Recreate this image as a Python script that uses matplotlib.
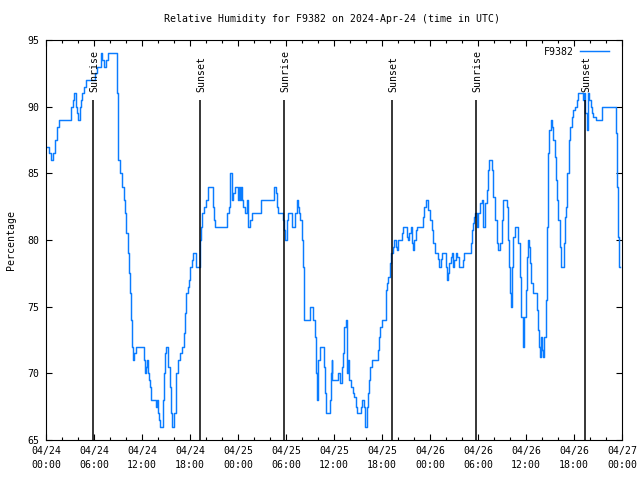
import matplotlib
matplotlib.use("Agg")
import matplotlib.pyplot as plt
from matplotlib.ticker import MultipleLocator

# ---- data (hours since 2024-04-24 00:00 UTC, relative humidity %) ----
hours = [0.0, 0.375, 0.625, 0.875, 1.125, 1.375, 1.625, 1.84, 3.125, 3.375, 3.5, 3.69, 3.875, 4.04,
         4.19, 4.375, 4.56, 4.75, 5.0, 6.125, 6.375, 6.875, 7.0, 7.25, 7.5, 7.75, 8.875, 8.94, 9.0,
         9.25, 9.5, 9.75, 9.875, 10.06, 10.19, 10.34, 10.5, 10.66, 10.79, 10.91, 11.0, 11.21, 12.25,
         12.375, 12.5, 12.625, 12.75, 12.875, 13.0, 13.125, 13.75, 13.875, 14.0, 14.125, 14.25,
         14.625, 14.75, 14.875, 15.06, 15.19, 15.31, 15.44, 15.625, 15.71, 16.0, 16.19, 16.31, 16.5,
         16.75, 17.0, 17.19, 17.375, 17.5, 17.69, 17.875, 18.06, 18.25, 18.375, 18.69, 19.19,
         19.375, 19.56, 19.75, 20.0, 20.19, 20.875, 21.0, 21.125, 22.625, 22.875, 23.06, 23.21,
         23.31, 23.41, 23.625, 24.0, 24.125, 24.25, 24.375, 24.56, 24.66, 24.875, 25.09, 25.19,
         25.29, 25.5, 25.71, 26.84, 28.5, 28.69, 28.84, 28.96, 29.59, 29.75, 29.875, 30.09, 30.29,
         30.69, 30.75, 31.125, 31.34, 31.5, 31.625, 31.75, 31.96, 32.09, 32.19, 32.25, 33.0, 33.41,
         33.625, 33.75, 33.875, 34.06, 34.25, 34.75, 34.875, 35.0, 35.5, 35.625, 35.71, 35.79, 36.5,
         36.69, 36.81, 36.96, 37.125, 37.21, 37.29, 37.46, 37.59, 37.66, 37.75, 37.91, 38.09, 38.34,
         38.5, 38.75, 38.91, 39.34, 39.46, 39.79, 39.91, 40.09, 40.21, 40.375, 40.5, 40.71, 41.46,
         41.625, 41.75, 41.96, 42.46, 42.53, 42.66, 42.79, 43.0, 43.125, 43.34, 43.5, 43.71, 43.84,
         44.0, 44.46, 44.66, 45.09, 45.21, 45.41, 45.59, 45.71, 45.875, 46.04, 46.21, 46.41, 47.09,
         47.25, 47.5, 47.71, 47.79, 48.0, 48.21, 48.41, 48.625, 49.04, 49.16, 49.34, 49.46, 50.0,
         50.16, 50.29, 50.41, 50.59, 50.71, 50.91, 51.04, 51.21, 51.41, 51.625, 52.09, 52.21, 53.09,
         53.29, 53.41, 53.54, 53.66, 53.84, 54.04, 54.25, 54.46, 54.66, 54.875, 55.09, 55.29, 55.41,
         55.71, 55.91, 56.125, 56.34, 56.54, 56.75, 56.96, 57.09, 57.59, 57.79, 57.91, 58.0, 58.16,
         58.25, 58.41, 58.625, 59.04, 59.25, 59.41, 59.66, 59.79, 59.96, 60.09, 60.21, 60.34, 60.5,
         60.625, 60.91, 61.34, 61.46, 61.625, 61.75, 61.875, 62.04, 62.16, 62.29, 62.46, 62.59,
         62.71, 62.91, 63.125, 63.29, 63.41, 63.625, 63.75, 63.875, 64.04, 64.25, 64.375, 64.75,
         64.91, 65.0, 65.16, 65.375, 65.5, 65.71, 65.91, 66.125, 66.34, 66.5, 67.09, 67.25, 67.41,
         67.59, 67.69, 67.79, 67.91, 68.09, 68.25, 68.41, 68.71, 69.54, 71.25, 71.41, 71.46, 71.625,
         71.75]
humidity = [87, 86.5, 86, 86.5, 87.5, 88.5, 89, 89, 90, 90.5, 91, 90, 89.5, 89,
            90, 90.5, 91, 91.5, 92, 92.5, 93, 94, 93.5, 93, 93.5, 94, 91, 88, 86,
            85, 84, 83, 82, 80.5, 79, 77.5, 76, 74, 72, 71, 71.5, 72, 71,
            70, 70.5, 71, 70, 69.5, 69, 68, 67.5, 68, 67, 66.5, 66,
            68, 70, 71.5, 72, 71.5, 70.5, 69, 67, 66, 67, 69, 70, 71,
            71.5, 72, 73, 74.5, 76, 76.5, 77, 78, 78.5, 79, 78, 80,
            81, 82, 82.5, 83, 84, 82.5, 81.5, 81, 82, 82.5, 85, 84.5,
            83, 83.5, 84, 83, 84, 83, 84, 83, 82.5, 82, 83, 82,
            81, 81.5, 82, 83, 84, 83.5, 82.5, 82, 81.5, 80.75, 80, 81.5, 82,
            81.5, 81, 82, 83, 82.5, 82, 81.5, 80, 78, 75.5, 74, 75, 74,
            72.75, 70, 68, 71, 72, 70.5, 68.5, 67, 68, 70, 71, 69.5, 70,
            69.5, 69.25, 70.5, 71.5, 72.5, 73.5, 74, 72, 70, 71, 69.5, 69, 68.5,
            68.25, 67.5, 67, 67.5, 68, 67.5, 66, 67.5, 68.5, 69.5, 70.5, 71, 71.75,
            72.75, 73.5, 74, 75, 76.25, 76.75, 77.25, 78.25, 79, 79.5, 80, 79.5, 79.25,
            80, 80.5, 81, 80.25, 80, 80.5, 81, 79.75, 79.25, 80, 80.75, 81, 81.75,
            82.5, 83, 82.75, 82.25, 81.5, 80.75, 79.75, 79, 78.6, 78, 78.6, 79, 78,
            77, 77.5, 78.25, 78.75, 79, 78, 78.5, 79, 78.75, 78, 78.5, 79, 79.75,
            80.75, 81.25, 81.75, 82, 81, 82, 82.75, 83, 81, 82.75, 83.75, 85.25, 86,
            85.25, 83.25, 81.5, 79.75, 79.25, 79.75, 81.5, 83, 82.5, 80, 78, 76, 75,
            78, 80.25, 81, 79.75, 77.25, 74.25, 72, 74.25, 76.25, 78.75, 80, 79.5, 78.25,
            76.75, 76, 74.75, 73.25, 72, 71.25, 72.75, 71.75, 71.25, 72.75, 75.5, 81,
            86.5, 88.25, 89, 88.5, 87.5, 86.25, 84.5, 83, 81.5, 79.5, 78, 79.75,
            81.75, 82.5, 85, 87.5, 88.5, 89.25, 89.75, 90, 90.5, 91, 90.5, 91, 89.5,
            88.25, 89.5, 91, 90.5, 90, 89.5, 89.25, 89, 90, 88, 84, 80.25, 78,
            78]

sun_hours = [5.875, 19.25, 29.75, 43.25, 53.75, 67.375]
sun_labels = ["Sunrise", "Sunset", "Sunrise", "Sunset", "Sunrise", "Sunset"]

tick_hours = [0, 6, 12, 18, 24, 30, 36, 42, 48, 54, 60, 66, 72]
tick_labels = ["04/24\n00:00", "04/24\n06:00", "04/24\n12:00", "04/24\n18:00",
               "04/25\n00:00", "04/25\n06:00", "04/25\n12:00", "04/25\n18:00",
               "04/26\n00:00", "04/26\n06:00", "04/26\n12:00", "04/26\n18:00",
               "04/27\n00:00"]
y_ticks = [65, 70, 75, 80, 85, 90, 95]

FONT = "DejaVu Sans Mono"
FS = 7.1
LINE_COLOR = "#0a7cff"

plt.rcParams["font.family"] = FONT
fig = plt.figure(figsize=(6.4, 4.8), dpi=100)
ax = fig.add_axes([46 / 640, 40 / 480, 576 / 640, 400 / 480])

ax.plot(hours, humidity, drawstyle="steps-post", color=LINE_COLOR, lw=1.05, label="F9382")

ax.vlines(sun_hours, 65, 90.5, colors="black", lw=1.1)
for h, lab in zip(sun_hours, sun_labels):
    ax.text(h + 0.15, 91.1, lab, rotation=90, ha="center", va="bottom",
            fontsize=FS, family=FONT)

ax.set_xlim(0, 72)
ax.set_ylim(65, 95)
ax.set_xticks(tick_hours)
labs = ax.set_xticklabels(tick_labels, fontsize=FS)
for t in labs:
    t.set_linespacing(1.55)
ax.xaxis.set_minor_locator(MultipleLocator(2))
ax.set_yticks(y_ticks)
ax.set_yticklabels([str(v) for v in y_ticks], fontsize=FS)

ax.tick_params(axis="both", which="both", direction="in", top=True, right=True, width=0.8)
ax.tick_params(axis="x", which="major", length=4.5, pad=4)
ax.tick_params(axis="x", which="minor", length=2.5)
ax.tick_params(axis="y", which="major", length=4.5, pad=4.5)
for s in ax.spines.values():
    s.set_linewidth(0.8)

leg = ax.legend(loc="upper right", frameon=False, markerfirst=False, fontsize=FS,
                handlelength=3.0, handletextpad=0.6, borderaxespad=0.3,
                bbox_to_anchor=(0.99, 1.0))

fig.text(0.5 * (163 + 500) / 640, 1 - 19 / 480, "Relative Humidity for F9382 on 2024-Apr-24 (time in UTC)",
         ha="center", va="center", fontsize=FS, family=FONT)
fig.text(11 / 640, 1 - 240 / 480, "Percentage", rotation=90, ha="center", va="center",
         fontsize=FS, family=FONT)

fig.savefig("out.png", dpi=100)
